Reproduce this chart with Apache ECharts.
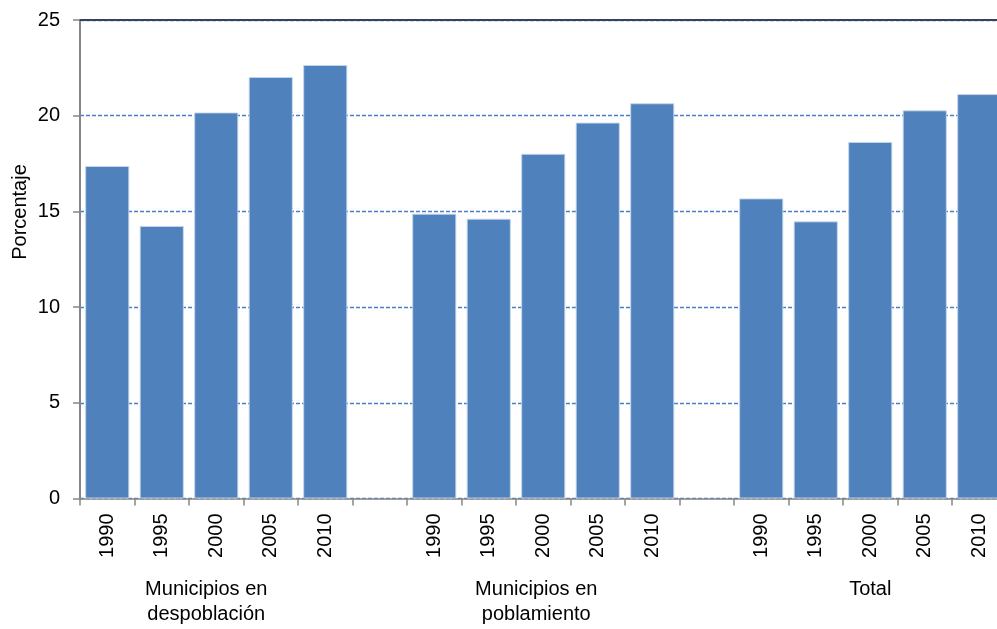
<!DOCTYPE html>
<html>
<head>
<meta charset="utf-8">
<script src="https://cdn.jsdelivr.net/npm/echarts@6/dist/echarts.min.js"></script>
<style>
html,body{margin:0;padding:0;background:#fff;}
#chart{width:997px;height:629px;}
</style>
</head>
<body>
<div id="chart"></div>
<script>
var years = ['1990', '1995', '2000', '2005', '2010'];
var groupNames = ['Municipios en\ndespoblación', 'Municipios en\npoblamiento', 'Total'];
var despoblacion = [17.37, 14.24, 20.17, 22.02, 22.65];
var poblamiento = [14.88, 14.62, 18.01, 19.64, 20.65];
var total = [15.68, 14.48, 18.63, 20.28, 21.13];
var yTicks = [0, 5, 10, 15, 20, 25];

var groupValues = [despoblacion, poblamiento, total];
var FONT = '"Liberation Sans", Arial, sans-serif';

var yearCats = [], groupCats = [], barData = [];
var groupShift = [20, 14, 0];
groupValues.forEach(function (vals, g) {
  if (g > 0) { yearCats.push(' ' + g); groupCats.push({ value: 'gap' + g, textStyle: { color: 'transparent' } }); barData.push('-'); }
  years.forEach(function (y, i) {
    yearCats.push(y + (g ? '\u200b'.repeat(g) : ''));
    if (i === 2) {
      groupCats.push({ value: groupNames[g], textStyle: { padding: [0, groupShift[g], 0, 0] } });
    } else {
      groupCats.push({ value: 'e' + g + '_' + i, textStyle: { color: 'transparent' } });
    }
    barData.push(vals[i]);
  });
});

var chart = echarts.init(document.getElementById('chart'), null, { renderer: 'canvas' });
chart.setOption({
  animation: false,
  backgroundColor: '#fff',
  textStyle: { fontFamily: FONT },
  grid: { left: 80, width: 926.5, top: 20, height: 478.5, containLabel: false, outerBoundsMode: 'none' },
  xAxis: [
    {
      type: 'category',
      data: yearCats,
      position: 'bottom',
      axisLine: { show: true, lineStyle: { color: '#868686', width: 1.5 } },
      axisTick: { show: true, interval: 0, length: 7, lineStyle: { color: '#868686', width: 1.5 } },
      axisLabel: {
        interval: 0, rotate: 90, margin: 15, fontSize: 20, color: '#000', fontFamily: FONT,
        formatter: function (v) { return /^ /.test(v) ? '' : v.replace(/\u200b/g, ''); }
      },
      splitLine: { show: false }
    },
    {
      type: 'category',
      data: groupCats,
      position: 'bottom',
      axisLine: { show: false },
      axisTick: { show: false },
      axisLabel: { interval: 0, margin: 78, fontSize: 20, lineHeight: 25, color: '#000', fontFamily: FONT, align: 'center' },
      splitLine: { show: false }
    },
    {
      type: 'category',
      data: yearCats,
      position: 'top',
      axisLine: { show: true, lineStyle: { color: '#34425f', width: 2 } },
      axisTick: { show: false },
      axisLabel: { show: false },
      splitLine: { show: false }
    }
  ],
  yAxis: {
    type: 'value',
    min: yTicks[0],
    max: yTicks[yTicks.length - 1],
    interval: 5,
    axisLine: { show: true, lineStyle: { color: '#868686', width: 2 } },
    axisTick: { show: true, length: 7, lineStyle: { color: '#868686', width: 1.5 } },
    axisLabel: { margin: 20, fontSize: 20, color: '#000', fontFamily: FONT },
    splitLine: { show: true, lineStyle: { color: '#4a7ec8', width: 1.3, type: [4, 2] } }
  },
  graphic: [{
    type: 'text',
    x: 20, y: 212,
    rotation: Math.PI / 2,
    style: { text: 'Porcentaje', fontSize: 20, fontFamily: FONT, fill: '#000', align: 'center', verticalAlign: 'middle' }
  }],
  series: [{
    type: 'bar',
    xAxisIndex: 0,
    data: barData,
    barCategoryGap: '19%',
    itemStyle: { color: '#4f81bd', borderColor: 'rgba(200,215,235,0.9)', borderWidth: 1 }
  }]
});
</script>
</body>
</html>
